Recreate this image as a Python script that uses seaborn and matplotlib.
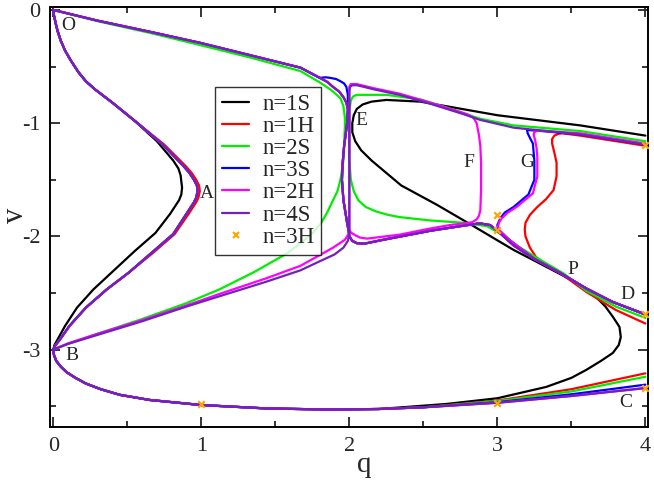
import pandas as pd
import matplotlib
matplotlib.use('Agg')
import matplotlib.pyplot as plt
from matplotlib.lines import Line2D
import seaborn as sns

# ---- values (q, v) ----
# loop O -> A -> B, shared by n=2S, n=3S, n=2H, n=4S
oab_q = [0.0, 0.003, 0.01, 0.02, 0.03, 0.05, 0.08, 0.12, 0.17, 0.22, 0.28, 0.4, 0.56, 0.74, 0.88, 0.92, 0.95, 0.97, 0.975, 0.965, 0.95, 0.9, 0.81, 0.66, 0.51, 0.36, 0.22, 0.11, 0.04, 0.015, 0.0]
oab_v = [0.0, -0.04, -0.08, -0.14, -0.19, -0.27, -0.36, -0.45, -0.55, -0.63, -0.7, -0.82, -0.99, -1.19, -1.38, -1.44, -1.5, -1.55, -1.6, -1.66, -1.7, -1.8, -1.98, -2.15, -2.32, -2.47, -2.63, -2.79, -2.92, -2.96, -3.0]
oab_red_q = [0.0, 0.003, 0.01, 0.02, 0.03, 0.05, 0.08, 0.12, 0.17, 0.22, 0.28, 0.4, 0.56, 0.75, 0.895, 0.935, 0.965, 0.985, 0.99, 0.98, 0.965, 0.915, 0.82, 0.67, 0.51, 0.36, 0.22, 0.11, 0.04, 0.015, 0.0]
oab_black_q = [0.0, 0.003, 0.01, 0.02, 0.03, 0.05, 0.08, 0.12, 0.17, 0.22, 0.28, 0.4, 0.55, 0.7, 0.81, 0.845, 0.86, 0.87, 0.865, 0.85, 0.79, 0.69, 0.55, 0.41, 0.27, 0.16, 0.08, 0.025, 0.008, 0.0]
oab_black_v = [0.0, -0.04, -0.08, -0.14, -0.19, -0.27, -0.36, -0.45, -0.55, -0.63, -0.7, -0.82, -0.98, -1.16, -1.33, -1.4, -1.46, -1.57, -1.63, -1.68, -1.8, -1.97, -2.13, -2.3, -2.47, -2.63, -2.79, -2.92, -2.96, -3.0]

# lower curve B -> C (common part)
bot_q = [0.0, 0.005, 0.02, 0.05, 0.09, 0.15, 0.22, 0.32, 0.45, 0.65, 1.0, 1.44, 1.87, 2.2, 2.5]
bot_v = [-3.0, -3.05, -3.1, -3.15, -3.2, -3.25, -3.3, -3.35, -3.4, -3.445, -3.49, -3.52, -3.53, -3.525, -3.51]
tail_q = [3.0, 3.5, 4.0]
tail_4s_v = [-3.47, -3.41, -3.34]
tail_3s_v = [-3.465, -3.395, -3.31]
tail_2s_v = [-3.455, -3.37, -3.24]
tail_1h_v = [-3.45, -3.35, -3.21]

# n=1S: bottom -> nose -> P -> E -> upper right
e1s_q = [2.2, 2.66, 3.0, 3.33, 3.5, 3.6, 3.7, 3.78, 3.82, 3.834, 3.825, 3.78, 3.73, 3.67, 3.56, 3.42, 3.11, 2.8, 2.59, 2.35, 2.15, 2.08, 2.04, 2.02, 2.02, 2.03, 2.05, 2.09, 2.15, 2.25, 2.48, 3.0, 3.56, 4.0]
e1s_v = [-3.525, -3.48, -3.43, -3.33, -3.25, -3.18, -3.1, -3.03, -2.96, -2.89, -2.8, -2.71, -2.62, -2.54, -2.43, -2.33, -2.12, -1.88, -1.72, -1.55, -1.33, -1.24, -1.16, -1.08, -1.0, -0.93, -0.875, -0.835, -0.81, -0.795, -0.81, -0.93, -1.02, -1.11]

# upper line O -> E
up_q = [0.0, 0.3, 0.66, 0.99, 1.33, 1.67, 1.8, 1.85, 1.89, 1.93, 1.96, 1.98, 1.99]
up_v = [0.0, -0.095, -0.195, -0.29, -0.4, -0.51, -0.6, -0.635, -0.68, -0.72, -0.77, -0.82, -0.88]
up_2s_q = [0.0, 0.3, 0.66, 0.99, 1.33, 1.67, 1.8, 1.88, 1.94, 1.96, 1.97, 1.97, 1.96, 1.94, 1.92, 1.89, 1.85, 1.81, 1.76, 1.7, 1.58, 1.35, 1.12, 0.9, 0.6, 0.3, 0.1, 0.0]
up_2s_v = [0.0, -0.1, -0.205, -0.31, -0.42, -0.54, -0.64, -0.71, -0.78, -0.85, -0.95, -1.03, -1.33, -1.5, -1.6, -1.68, -1.79, -1.88, -1.96, -2.03, -2.15, -2.32, -2.47, -2.59, -2.73, -2.86, -2.95, -3.0]
up_3s_q = [0.0, 0.3, 0.66, 0.99, 1.33, 1.67, 1.8, 1.84, 1.87, 1.91, 1.94, 1.965, 1.98, 1.99, 1.99, 1.985]
up_3s_v = [0.0, -0.095, -0.195, -0.29, -0.4, -0.51, -0.6, -0.595, -0.6, -0.61, -0.63, -0.65, -0.68, -0.75, -0.88, -1.0]

# S curve through E and lower line to P and D
s_q = [1.985, 1.975, 1.965, 1.955, 1.95, 1.96, 1.985, 1.995, 2.0, 2.02, 2.05, 2.1, 2.23, 2.55, 2.75, 2.88, 2.95, 3.0, 3.11, 3.25, 3.42, 3.6, 3.78, 4.0]
s_v = [-1.0, -1.1, -1.2, -1.35, -1.5, -1.68, -1.88, -1.95, -2.0, -2.04, -2.06, -2.065, -2.03, -1.95, -1.91, -1.885, -1.9, -1.95, -2.08, -2.2, -2.32, -2.46, -2.58, -2.69]

# diagonal B -> E and vertical at q=2 to upper right line
diag_q = [0.0, 0.1, 0.3, 0.6, 0.9, 1.12, 1.44, 1.67, 1.8, 1.9, 1.96, 1.99, 2.0, 2.0, 2.0, 2.0, 2.005, 2.02, 2.05, 2.1, 2.16, 2.34, 2.55, 2.77, 2.88, 3.11, 3.56, 4.0]
diag_v = [-3.0, -2.95, -2.87, -2.75, -2.62, -2.53, -2.4, -2.3, -2.22, -2.16, -2.1, -2.04, -1.98, -1.5, -1.0, -0.72, -0.68, -0.665, -0.665, -0.68, -0.7, -0.75, -0.83, -0.92, -0.97, -1.04, -1.1, -1.19]

# n=2H: diagonal, vertical, F loop
f2h_q = [0.0, 0.1, 0.3, 0.6, 0.9, 1.12, 1.44, 1.67, 1.89, 1.97, 2.0, 2.0, 2.0, 2.01, 2.05, 2.16, 2.34, 2.55, 2.77, 2.81, 2.84, 2.86, 2.875, 2.885, 2.89, 2.89, 2.885, 2.875, 2.86, 2.83, 2.78, 2.68, 2.55, 2.34, 2.12, 2.07, 2.04, 2.015, 2.0]
f2h_v = [-3.0, -2.945, -2.86, -2.74, -2.61, -2.51, -2.37, -2.26, -2.1, -2.03, -1.97, -1.0, -0.68, -0.655, -0.655, -0.69, -0.74, -0.82, -0.91, -0.93, -0.955, -1.0, -1.1, -1.2, -1.35, -1.59, -1.77, -1.82, -1.85, -1.875, -1.885, -1.9, -1.93, -1.985, -2.02, -2.01, -1.99, -1.97, -1.95]

# G loops (n=2H, n=3S) and red loop (n=1H), from upper right line down to P and D
g2h_q = [4.0, 3.56, 3.29, 3.265, 3.25, 3.245, 3.255, 3.265, 3.27, 3.27, 3.24, 3.13, 3.07, 3.03, 3.01, 3.005, 3.01, 3.04, 3.08, 3.11, 3.25, 3.42, 3.6, 3.78, 4.0]
g2h_v = [-1.18, -1.09, -1.066, -1.07, -1.08, -1.1, -1.15, -1.22, -1.3, -1.47, -1.62, -1.74, -1.79, -1.84, -1.88, -1.91, -1.94, -1.98, -2.03, -2.06, -2.2, -2.32, -2.46, -2.58, -2.69]
g3s_q = [4.0, 3.56, 3.3, 3.2, 3.205, 3.22, 3.24, 3.25, 3.25, 3.21, 3.11, 3.05, 3.02, 3.0, 3.005, 3.04, 3.08, 3.11, 3.25, 3.42, 3.6, 3.78, 4.0]
g3s_v = [-1.19, -1.1, -1.07, -1.06, -1.09, -1.13, -1.18, -1.33, -1.5, -1.63, -1.74, -1.79, -1.84, -1.9, -1.94, -1.98, -2.03, -2.06, -2.2, -2.32, -2.46, -2.58, -2.69]
r1h_q = [4.0, 3.56, 3.44, 3.41, 3.385, 3.37, 3.37, 3.385, 3.4, 3.4, 3.38, 3.33, 3.27, 3.22, 3.19, 3.185, 3.19, 3.22, 3.26, 3.31, 3.36, 3.42, 3.6, 3.8, 4.0]
r1h_v = [-1.2, -1.11, -1.09, -1.095, -1.11, -1.14, -1.18, -1.26, -1.35, -1.47, -1.59, -1.67, -1.74, -1.81, -1.88, -1.94, -2.0, -2.1, -2.18, -2.24, -2.28, -2.32, -2.49, -2.65, -2.77]

# n=2S: upper right line, inner curve at E, down to P and D
e2s_q = [4.0, 3.56, 3.11, 2.88, 2.7, 2.48, 2.25, 2.05, 2.025, 2.01, 2.0, 2.0, 2.0, 2.01, 2.03, 2.06, 2.11, 2.18, 2.26, 2.34, 2.55, 2.77, 2.93, 3.04, 3.13, 3.28, 3.45, 3.6, 3.8, 4.0]
e2s_v = [-1.16, -1.07, -1.02, -0.96, -0.88, -0.79, -0.75, -0.75, -0.765, -0.8, -0.9, -1.0, -1.32, -1.5, -1.6, -1.68, -1.74, -1.78, -1.81, -1.83, -1.86, -1.88, -1.91, -1.99, -2.08, -2.2, -2.33, -2.48, -2.62, -2.72]

# n=3H points
h3_q = [1.0, 3.0, 4.0, 4.0, 4.0, 3.0, 3.0]
h3_v = [-3.48, -3.47, -3.34, -2.69, -1.19, -1.81, -1.94]

# point labels
lab_text = ['O', 'A', 'B', 'C', 'D', 'E', 'F', 'G', 'P']
lab_q = [0.1, 1.04, 0.125, 3.87, 3.88, 2.08, 2.81, 3.2, 3.51]
lab_v = [-0.14, -1.62, -3.05, -3.47, -2.51, -0.98, -1.35, -1.35, -2.29]

series = ['n=1S', 'n=1H', 'n=2S', 'n=3S', 'n=2H', 'n=4S']
colors = ['#000000', '#ff0000', '#00ee00', '#0000ff', '#ff00ff', '#7221bc']

branches = {
    'n=1S': [(oab_black_q, oab_black_v), (bot_q[:-1], bot_v[:-1]), (e1s_q, e1s_v)],
    'n=1H': [(oab_red_q, oab_v), (bot_q + tail_q, bot_v + tail_1h_v), (r1h_q, r1h_v), (up_q + s_q, up_v + s_v)],
    'n=2S': [(oab_q, oab_v), (bot_q + tail_q, bot_v + tail_2s_v), (up_2s_q, up_2s_v), (e2s_q, e2s_v)],
    'n=3S': [(oab_q, oab_v), (bot_q + tail_q, bot_v + tail_3s_v), (up_3s_q + s_q, up_3s_v + s_v), (g3s_q, g3s_v)],
    'n=2H': [(oab_q, oab_v), (bot_q + tail_q, bot_v + tail_4s_v), (up_q + s_q, up_v + s_v), (f2h_q, f2h_v), (g2h_q, g2h_v)],
    'n=4S': [(oab_q, oab_v), (bot_q + tail_q, bot_v + tail_4s_v), (up_q + s_q, up_v + s_v), (diag_q, diag_v)],
}

rows = []
for s in series:
    for i, (qq, vv) in enumerate(branches[s]):
        for q, v in zip(qq, vv):
            rows.append({'q': q, 'v': v, 'series': s, 'branch': f'{s}-{i}'})
df = pd.DataFrame(rows)

sns.set_theme(style='ticks')
plt.rcParams['font.family'] = ['Liberation Serif', 'DejaVu Serif']
plt.rcParams['axes.unicode_minus'] = False

fig = plt.figure(figsize=(6.54, 4.82), dpi=100)
ax = fig.add_axes([0.0765, 0.1141, 0.9144, 0.8714])

sns.lineplot(data=df, x='q', y='v', hue='series', units='branch', estimator=None,
             sort=False, hue_order=series, palette=colors, linewidth=1.6,
             legend=False, ax=ax)
sns.scatterplot(x=h3_q, y=h3_v, marker='x', color='#ffa500', s=22, linewidth=1.6, ax=ax, zorder=5)

for t, q, v in zip(lab_text, lab_q, lab_v):
    ax.text(q, v, t, fontsize=14, ha='center', va='center')

ax.set_xlim(-0.022, 4.018)
ax.set_ylim(-3.684, 0.026)
ax.set_xticks([0, 1, 2, 3, 4])
ax.set_yticks([0, -1, -2, -3])
ax.set_xticks([0.5, 1.5, 2.5, 3.5], minor=True)
ax.set_yticks([-0.5, -1.5, -2.5, -3.5], minor=True)
ax.tick_params(which='both', direction='in', top=True, right=True, width=1.3, labelsize=16)
ax.tick_params(which='major', length=7.5, pad=7)
ax.tick_params(which='minor', length=4.5)
for sp in ax.spines.values():
    sp.set_linewidth(1.4)
    sp.set_color('black')
ax.set_xlabel('q', fontsize=21, va='center')
ax.xaxis.set_label_coords(0.525, -0.09)
ax.set_ylabel('v', fontsize=22, va='center')
ax.yaxis.set_label_coords(-0.057, 0.505)

handles = [Line2D([], [], color=c, lw=1.6) for c in colors]
handles.append(Line2D([], [], color='#ffa500', marker='x', ls='none', ms=4, mew=1.5))
leg = ax.legend(handles, series + ['n=3H'], loc='upper left', bbox_to_anchor=(0.276, 0.81),
                borderaxespad=0, fontsize=16.5, frameon=True, fancybox=False,
                handlelength=1.2, handletextpad=0.55, labelspacing=0.05, borderpad=0.3)
leg.get_frame().set_edgecolor('black')
leg.get_frame().set_linewidth(1.0)

fig.savefig('out.png', dpi=100)
